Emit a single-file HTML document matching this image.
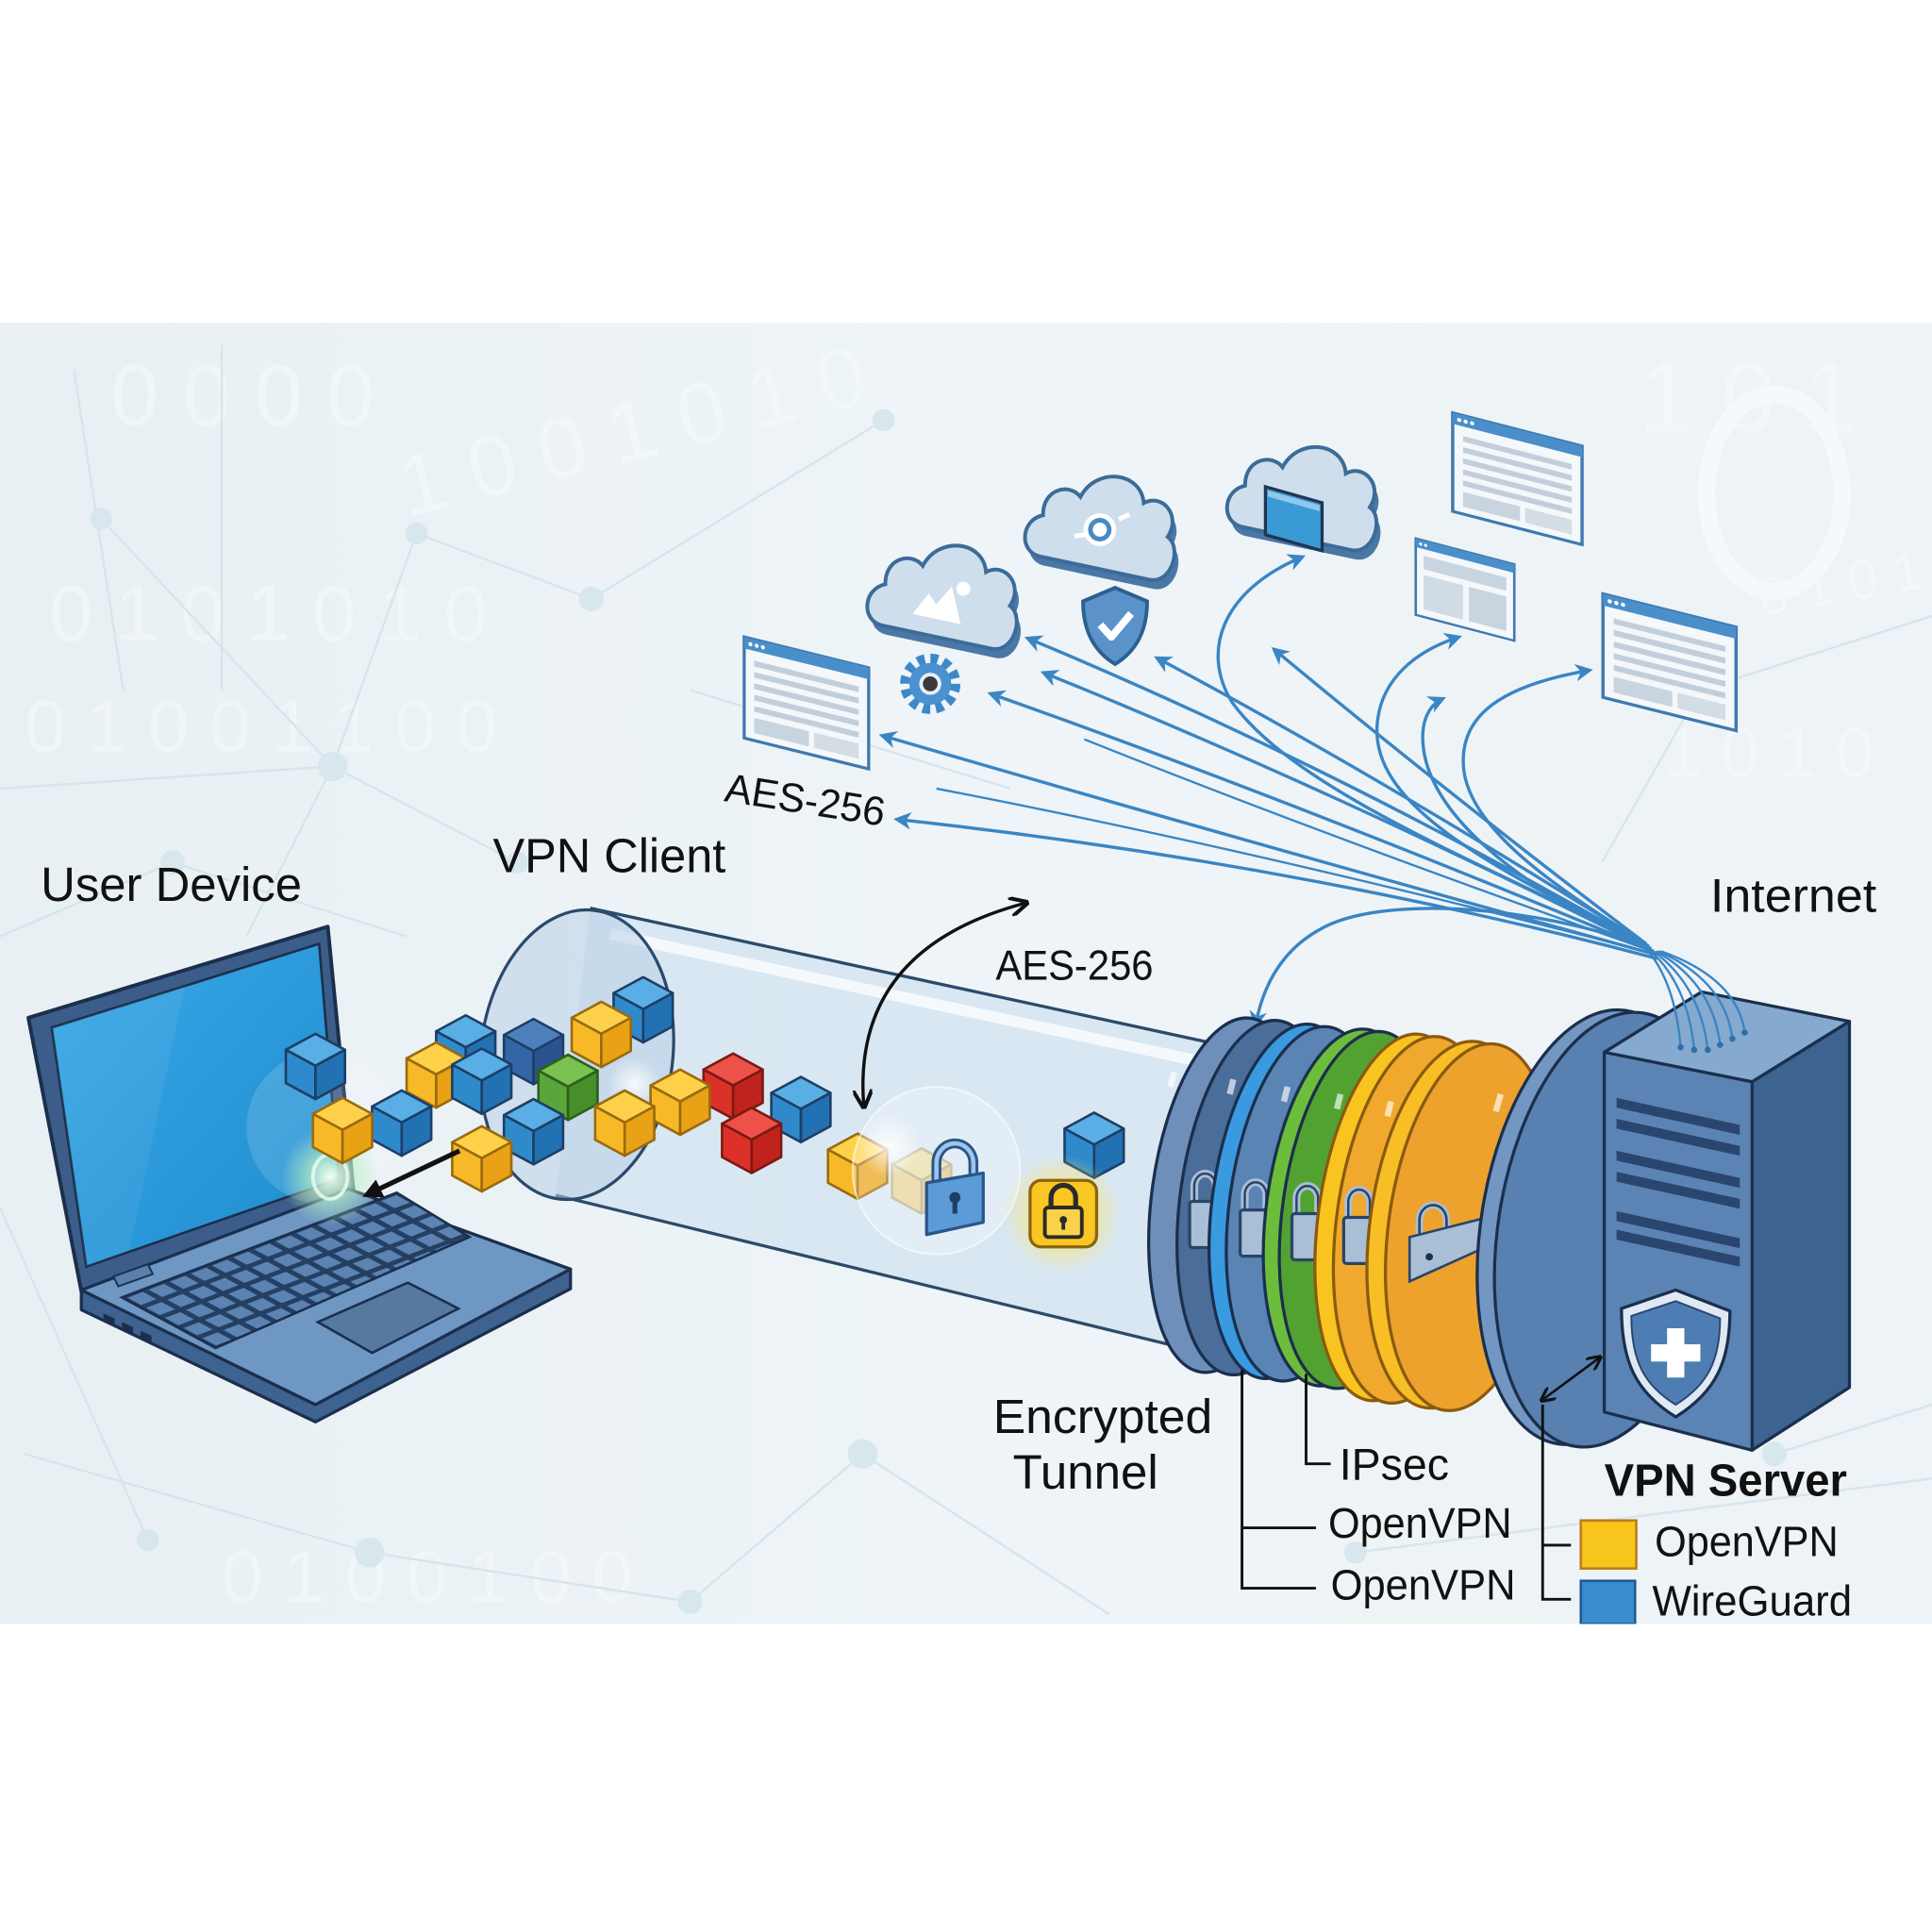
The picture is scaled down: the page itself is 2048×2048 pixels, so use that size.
<!DOCTYPE html>
<html><head><meta charset="utf-8"><style>
html,body{margin:0;padding:0;background:#fff;}
svg{display:block;}
text{font-family:"Liberation Sans",Arial,sans-serif;fill:#111;}
</style></head><body>
<svg width="2048" height="2048" viewBox="0 0 1568 1568" xmlns="http://www.w3.org/2000/svg">
<defs>
<linearGradient id="bg" x1="0" y1="0" x2="1" y2="0">
<stop offset="0" stop-color="#e8f0f4"/><stop offset="0.5" stop-color="#eef4f7"/><stop offset="1" stop-color="#edf3f6"/>
</linearGradient>
<linearGradient id="scr" x1="0" y1="0" x2="1" y2="1">
<stop offset="0" stop-color="#3aa9e8"/><stop offset="1" stop-color="#1f8ccd"/>
</linearGradient>
<radialGradient id="glowW"><stop offset="0" stop-color="#ffffff" stop-opacity="0.85"/><stop offset="1" stop-color="#ffffff" stop-opacity="0"/></radialGradient>
<radialGradient id="glowG"><stop offset="0" stop-color="#f4fff0" stop-opacity="1"/><stop offset="0.5" stop-color="#b8f0c0" stop-opacity="0.6"/><stop offset="1" stop-color="#b8f0c0" stop-opacity="0"/></radialGradient>
<radialGradient id="glowY"><stop offset="0" stop-color="#fff4a0" stop-opacity="0.95"/><stop offset="0.6" stop-color="#ffe45a" stop-opacity="0.4"/><stop offset="1" stop-color="#ffe45a" stop-opacity="0"/></radialGradient>
<pattern id="keys" patternUnits="userSpaceOnUse" width="16" height="16" patternTransform="matrix(1.072 -0.409 0.95 0.5125 99 1053)">
<rect x="0" y="0" width="16" height="16" fill="#253f62"/>
<rect x="2.2" y="2.2" width="11.6" height="11.6" fill="#5c83b2"/>
</pattern>
<marker id="ab" viewBox="0 0 10 10" refX="8" refY="5" markerWidth="5.5" markerHeight="5.5" orient="auto-start-reverse"><path d="M0,0 L10,5 L0,10 L3,5 Z" fill="#3a85c4"/></marker>
<marker id="ak" viewBox="0 0 10 10" refX="8" refY="5" markerWidth="6" markerHeight="6" orient="auto-start-reverse"><path d="M0,0 L10,5 L0,10" fill="none" stroke="#111" stroke-width="2"/></marker>
<marker id="ak2" viewBox="0 0 10 10" refX="8" refY="5" markerWidth="4" markerHeight="4" orient="auto-start-reverse"><path d="M0,0 L10,5 L0,10 Z" fill="#111"/></marker>

<g id="cB" stroke="#1d3f66" stroke-width="2" stroke-linejoin="round">
<path d="M0,-26 L24,-13 L0,0 L-24,-13 Z" fill="#5aaee6"/><path d="M-24,-13 L0,0 L0,27 L-24,14 Z" fill="#2f8acb"/><path d="M0,0 L24,-13 L24,14 L0,27 Z" fill="#2271b3"/></g>
<g id="cD" stroke="#1d3f66" stroke-width="2" stroke-linejoin="round">
<path d="M0,-26 L24,-13 L0,0 L-24,-13 Z" fill="#4d80bd"/><path d="M-24,-13 L0,0 L0,27 L-24,14 Z" fill="#3465a5"/><path d="M0,0 L24,-13 L24,14 L0,27 Z" fill="#2a548e"/></g>
<g id="cY" stroke="#9a6a10" stroke-width="2" stroke-linejoin="round">
<path d="M0,-26 L24,-13 L0,0 L-24,-13 Z" fill="#fdd14a"/><path d="M-24,-13 L0,0 L0,27 L-24,14 Z" fill="#f7b928"/><path d="M0,0 L24,-13 L24,14 L0,27 Z" fill="#e9a215"/></g>
<g id="cR" stroke="#7a1a14" stroke-width="2" stroke-linejoin="round">
<path d="M0,-26 L24,-13 L0,0 L-24,-13 Z" fill="#ee5148"/><path d="M-24,-13 L0,0 L0,27 L-24,14 Z" fill="#dc3128"/><path d="M0,0 L24,-13 L24,14 L0,27 Z" fill="#c0231d"/></g>
<g id="cG" stroke="#2e5f1a" stroke-width="2" stroke-linejoin="round">
<path d="M0,-26 L24,-13 L0,0 L-24,-13 Z" fill="#79c150"/><path d="M-24,-13 L0,0 L0,27 L-24,14 Z" fill="#5aa63a"/><path d="M0,0 L24,-13 L24,14 L0,27 Z" fill="#468f2b"/></g>

<path id="cloud" d="M-45,35 C-64,35 -68,8 -50,0 C-55,-22 -34,-32 -22,-22 C-14,-50 24,-54 32,-28 C46,-40 66,-24 58,-4 C72,2 70,35 50,35 Z"/>

<g id="lock" stroke="#2a4468" stroke-width="2">
<path d="M-7,-8 V-18 A7,8 0 0 1 7,-18 V-8" fill="none" stroke="#a9bfd6" stroke-width="5"/>
<path d="M-7,-8 V-18 A7,8 0 0 1 7,-18 V-8" fill="none" stroke-width="1.5"/>
<rect x="-10" y="-8" width="20" height="30" rx="2" fill="#a9bfd6"/>
</g>

<g id="doc">
<rect x="0" y="0" width="100" height="80" fill="#f5f8fb" stroke="#3f79b0" stroke-width="2.5"/>
<rect x="0" y="0" width="100" height="9" fill="#4a8fc9"/>
<circle cx="5" cy="4.5" r="1.6" fill="#fff"/><circle cx="10" cy="4.5" r="1.6" fill="#fff"/><circle cx="15" cy="4.5" r="1.6" fill="#fff"/>
<g stroke="#c2cfdb" stroke-width="4.5"><line x1="8" y1="19" x2="92" y2="19"/><line x1="8" y1="28" x2="92" y2="28"/><line x1="8" y1="37" x2="92" y2="37"/><line x1="8" y1="46" x2="92" y2="46"/><line x1="8" y1="55" x2="92" y2="55"/></g>
<rect x="8" y="62" width="44" height="12" fill="#c8d4de"/><rect x="56" y="62" width="36" height="12" fill="#d3dde5"/>
</g>
<g id="doc2">
<rect x="0" y="0" width="100" height="80" fill="#f5f8fb" stroke="#3f79b0" stroke-width="2.5"/>
<rect x="0" y="0" width="100" height="9" fill="#4a8fc9"/>
<circle cx="5" cy="4.5" r="1.6" fill="#fff"/><circle cx="10" cy="4.5" r="1.6" fill="#fff"/>
<rect x="8" y="16" width="84" height="14" fill="#c8d4de"/>
<rect x="8" y="36" width="40" height="36" fill="#d0dbe4"/><rect x="54" y="36" width="38" height="36" fill="#c8d4de"/>
</g>
</defs>

<!-- background band -->
<rect x="0" y="0" width="1568" height="1568" fill="#ffffff"/>
<rect x="0" y="262" width="1568" height="1056" fill="url(#bg)"/>

<!-- faint background texture -->
<g font-family="Liberation Sans, sans-serif" opacity="0.5">
<text x="90" y="345" font-size="70" style="fill:#f8fbfc">0 0 0 0</text>
<text x="330" y="420" font-size="70" transform="rotate(-14 330 420)" style="fill:#f8fbfc">1 0 0 1 0 1 0</text>
<text x="40" y="520" font-size="64" style="fill:#f8fbfc">0  1 0 1 0 1 0</text>
<text x="20" y="610" font-size="60" style="fill:#f8fbfc">0 1 0 0 1 1 0 0</text>
<text x="1330" y="350" font-size="80" style="fill:#f8fbfc">1 0 1</text>
<text x="1430" y="500" font-size="44" transform="rotate(-10 1430 500)" style="fill:#f8fbfc">0 1 0 1 0</text>
<text x="180" y="1300" font-size="60" style="fill:#f8fbfc">0 1 0 0 1 0 0</text>
<text x="1350" y="630" font-size="56" style="fill:#f8fbfc">1 0 1 0</text>
</g>
<ellipse cx="1440" cy="400" rx="55" ry="80" fill="none" stroke="#f6f9fb" stroke-width="14"/>
<g stroke="#d6e5ec" stroke-width="1.8" fill="none">
<line x1="82" y1="421" x2="270" y2="622"/><line x1="338" y1="433" x2="480" y2="486"/><line x1="338" y1="433" x2="270" y2="622"/>
<line x1="270" y1="622" x2="200" y2="760"/><line x1="0" y1="640" x2="270" y2="622"/><line x1="270" y1="622" x2="420" y2="700"/>
<line x1="480" y1="486" x2="717" y2="341"/><line x1="0" y1="980" x2="120" y2="1250"/><line x1="20" y1="1180" x2="300" y2="1260"/>
<line x1="300" y1="1260" x2="560" y2="1300"/><line x1="560" y1="1300" x2="700" y2="1180"/><line x1="700" y1="1180" x2="900" y2="1310"/>
<line x1="1380" y1="560" x2="1568" y2="500"/><line x1="1380" y1="560" x2="1300" y2="700"/><line x1="1440" y1="1180" x2="1568" y2="1140"/>
<line x1="1100" y1="1260" x2="1568" y2="1200"/><line x1="0" y1="760" x2="140" y2="700"/><line x1="140" y1="700" x2="330" y2="760"/>
<line x1="560" y1="560" x2="820" y2="640"/><line x1="60" y1="300" x2="100" y2="560"/><line x1="180" y1="280" x2="180" y2="560"/>
</g>
<g fill="#d8e6ee">
<circle cx="82" cy="421" r="9"/><circle cx="338" cy="433" r="9"/><circle cx="480" cy="486" r="10"/><circle cx="717" cy="341" r="9"/>
<circle cx="270" cy="622" r="12"/><circle cx="420" cy="700" r="9"/><circle cx="140" cy="700" r="10"/><circle cx="300" cy="1260" r="12"/>
<circle cx="560" cy="1300" r="10"/><circle cx="700" cy="1180" r="12"/><circle cx="1380" cy="560" r="12"/><circle cx="1440" cy="1180" r="10"/>
<circle cx="120" cy="1250" r="9"/><circle cx="1100" cy="1260" r="9"/>
</g>

<!-- documents -->
<use href="#doc" transform="matrix(1.01 0.25 0 1.025 604 517)"/>
<use href="#doc" transform="matrix(1.05 0.27 0 1.0 1179 335)"/>
<use href="#doc2" transform="matrix(0.8 0.21 0 0.775 1149 437)"/>
<use href="#doc" transform="matrix(1.08 0.27 0 1.05 1301 482)"/>

<!-- clouds -->
<g transform="translate(765 484) rotate(12) scale(0.95)">
<use href="#cloud" transform="translate(5 7)" fill="#4a78a6"/>
<use href="#cloud" fill="#cfdeec" stroke="#3b6b99" stroke-width="3.2"/>
<path d="M-22,20 L-12,0 L-4,8 L6,-10 L20,20 Z" fill="#fff"/><circle cx="16" cy="-10" r="6" fill="#fff"/>
</g>
<g transform="translate(893 428) rotate(12) scale(0.95)">
<use href="#cloud" transform="translate(5 7)" fill="#4a78a6"/>
<use href="#cloud" fill="#cfdeec" stroke="#3b6b99" stroke-width="3.2"/>
<circle cx="0" cy="2" r="14" fill="#fff"/><circle cx="0" cy="2" r="8" fill="none" stroke="#4a8ac4" stroke-width="4"/>
<path d="M-20,12 L-10,8 M14,-10 L22,-16" stroke="#fff" stroke-width="4"/>
</g>
<g transform="translate(1057 404) rotate(12) scale(0.95)">
<use href="#cloud" transform="translate(5 7)" fill="#4a78a6"/>
<use href="#cloud" fill="#cfdeec" stroke="#3b6b99" stroke-width="3.2"/>
</g>
<polygon points="1027,395 1073,408 1073,447 1027,434" fill="#3a9ad6" stroke="#1f3550" stroke-width="2.5"/>
<polygon points="1029,398 1071,410 1071,415 1029,403" fill="#8fc8ec"/>

<!-- shield icon -->
<path d="M905,477 L931,488 C931,511 923,528 905,539 C887,528 879,511 879,488 Z" fill="#5b92c9" stroke="#2c5f92" stroke-width="3"/>
<polyline points="893,507 902,517 918,498" fill="none" stroke="#fff" stroke-width="6" stroke-linejoin="round"/>
<!-- gear -->
<circle cx="755" cy="555" r="20" fill="none" stroke="#3f88c8" stroke-width="9" stroke-dasharray="6 4.47"/>
<circle cx="755" cy="555" r="17" fill="#4a92cf"/>
<circle cx="755" cy="555" r="9" fill="#e8eef3"/><circle cx="755" cy="555" r="6" fill="#3b3b3b"/>

<!-- fan arrows -->
<g fill="none" stroke="#3a85c4" stroke-width="2.6" marker-end="url(#ab)">
<path d="M1345,778 Q1050,700 728,665"/>
<path d="M1345,775 Q1000,680 716,597"/>
<path d="M1342,772 Q1050,650 804,563"/>
<path d="M1340,770 Q1080,620 834,518"/>
<path d="M1340,771 Q1080,640 847,546"/>
<path d="M1338,768 Q1120,630 939,534"/>
<path d="M1336,766 Q1170,640 1034,527"/>
<path d="M1338,768 C1200,700 1050,640 1000,570 C975,530 990,480 1057,452"/>
<path d="M1336,766 C1200,700 1110,650 1118,585 C1122,550 1150,528 1184,517"/>
<path d="M1336,766 C1230,720 1160,660 1155,605 C1153,585 1160,572 1171,567"/>
<path d="M1338,768 C1280,730 1195,680 1188,625 C1183,580 1220,556 1290,544"/>
<path d="M1340,770 C1250,735 1120,725 1070,755 C1040,772 1025,800 1019,832"/>
</g>
<g fill="none" stroke="#3a85c4" stroke-width="1.8">
<path d="M1343,774 Q1020,690 760,640"/>
<path d="M1341,772 Q1080,680 880,600"/>
</g>

<!-- tube -->
<polygon points="479,737 995,849 985,1100 451,970" fill="#d3e3f0" fill-opacity="0.8"/>
<line x1="495" y1="758" x2="995" y2="866" stroke="#ffffff" stroke-opacity="0.75" stroke-width="9"/>
<line x1="479" y1="737" x2="995" y2="849" stroke="#2b4a6b" stroke-width="2.5"/>
<line x1="451" y1="970" x2="985" y2="1100" stroke="#2b4a6b" stroke-width="2.5"/>
<ellipse cx="468" cy="856" rx="78" ry="118" transform="rotate(7 468 856)" fill="#b9d0e5" fill-opacity="0.55" stroke="#2b4a6b" stroke-width="2.5"/>

<!-- laptop -->
<polygon points="23,826 266,752 287,967 66,1048" fill="#3c5d89" stroke="#1b2f4d" stroke-width="3" stroke-linejoin="round"/>
<polygon points="42,834 259,766 275,957 70,1028" fill="url(#scr)" stroke="#1b2f4d" stroke-width="2"/>
<polygon points="42,834 150,800 105,1015 70,1028" fill="#ffffff" fill-opacity="0.06"/>
<circle cx="262" cy="915" r="62" fill="#ffffff" fill-opacity="0.14"/>
<polygon points="66,1047 66,1063 256,1154 463,1046 463,1030 256,1140" fill="#3e6391" stroke="#1b2f4d" stroke-width="2.5" stroke-linejoin="round"/>
<polygon points="66,1047 283,965 463,1030 256,1140" fill="#6f97c4" stroke="#1b2f4d" stroke-width="2.5" stroke-linejoin="round"/>
<polygon points="99,1053 322,968 381,1004 175,1094" fill="url(#keys)" stroke="#1b2f4d" stroke-width="2"/>
<polygon points="258,1073 331,1041 372,1062 302,1098" fill="#56799f" stroke="#1b2f4d" stroke-width="2"/>
<polygon points="92,1036 120,1026 124,1034 96,1044" fill="#5a80ad" stroke="#1b2f4d" stroke-width="1.5"/>
<g fill="#1b2f4d"><polygon points="84,1066 93,1070 93,1075 84,1071"/><polygon points="99,1073 108,1077 108,1082 99,1078"/><polygon points="114,1080 123,1084 123,1089 114,1085"/></g>
<circle cx="268" cy="955" r="40" fill="url(#glowG)"/>
<ellipse cx="268" cy="955" rx="14" ry="18" fill="none" stroke="#e8fff0" stroke-width="3" opacity="0.8"/>

<!-- cubes -->
<use href="#cB" x="522" y="819"/>
<use href="#cY" x="488" y="839"/>
<use href="#cD" x="433" y="853"/>
<use href="#cB" x="378" y="850"/>
<use href="#cB" x="256" y="865"/>
<use href="#cY" x="354" y="872"/>
<use href="#cB" x="391" y="877"/>
<use href="#cG" x="461" y="882"/>
<circle cx="515" cy="880" r="22" fill="url(#glowW)"/>
<use href="#cR" x="595" y="881"/>
<use href="#cY" x="552" y="894"/>
<use href="#cB" x="650" y="900"/>
<use href="#cY" x="507" y="911"/>
<use href="#cB" x="326" y="911"/>
<use href="#cY" x="278" y="917"/>
<use href="#cB" x="433" y="918"/>
<use href="#cR" x="610" y="925"/>
<use href="#cY" x="391" y="940"/>
<use href="#cY" x="696" y="946"/>
<g opacity="0.45"><use href="#cY" x="748" y="958"/></g>
<use href="#cB" x="888" y="929"/>

<!-- lock glow region -->
<circle cx="760" cy="950" r="68" fill="#ffffff" fill-opacity="0.28" stroke="#ffffff" stroke-opacity="0.6" stroke-width="1.5"/>
<circle cx="722" cy="930" r="26" fill="url(#glowW)"/>
<!-- blue lock -->
<path d="M760,962 V944 A15,16 0 0 1 790,944 V962" fill="none" stroke="#2a5588" stroke-width="8"/>
<path d="M760,962 V944 A15,16 0 0 1 790,944 V962" fill="none" stroke="#9cc6ea" stroke-width="3.5"/>
<polygon points="752,960 798,952 798,992 752,1002" fill="#5b9bd8" stroke="#2a5588" stroke-width="2.5" stroke-linejoin="round"/>
<circle cx="775" cy="972" r="4.5" fill="#1d3f66"/><rect x="773" y="974" width="4" height="11" fill="#1d3f66"/>
<!-- yellow lock -->
<circle cx="862" cy="985" r="48" fill="url(#glowY)"/>
<rect x="836" y="958" width="54" height="54" rx="9" fill="#f9c623" stroke="#8a6410" stroke-width="2.5"/>
<path d="M853,982 V972 A10,10 0 0 1 873,972 V982" fill="none" stroke="#2b2b2b" stroke-width="4"/>
<rect x="848" y="980" width="30" height="24" rx="3" fill="#f9d24a" stroke="#2b2b2b" stroke-width="3"/>
<circle cx="863" cy="990" r="3" fill="#2b2b2b"/><rect x="861.5" y="990" width="3" height="8" fill="#2b2b2b"/>

<!-- black arrows -->
<line x1="373" y1="934" x2="297" y2="970" stroke="#111" stroke-width="4" marker-end="url(#ak2)"/>
<path d="M701,897 C695,820 730,760 832,733" fill="none" stroke="#111" stroke-width="2.6" marker-start="url(#ak)" marker-end="url(#ak)"/>

<!-- disks -->
<g stroke="#1b2f4d" stroke-width="2.5">
<ellipse cx="995" cy="970" rx="60" ry="145" transform="rotate(8 995 970)" fill="#6d8fba"/>
<ellipse cx="1018" cy="972" rx="60" ry="145" transform="rotate(8 1018 972)" fill="#4a6d99"/>
<use href="#lock" transform="translate(978 985) scale(1.25)"/>
<ellipse cx="1044" cy="975" rx="60" ry="145" transform="rotate(8 1044 975)" fill="#3a9ae0"/>
<ellipse cx="1058" cy="977" rx="60" ry="145" transform="rotate(8 1058 977)" fill="#5a84b3"/>
<use href="#lock" transform="translate(1019 992) scale(1.25)"/>
<ellipse cx="1089" cy="980" rx="61" ry="146" transform="rotate(8 1089 980)" fill="#6cbd3c"/>
<ellipse cx="1102" cy="982" rx="61" ry="146" transform="rotate(8 1102 982)" fill="#52a232"/>
<use href="#lock" transform="translate(1061 995) scale(1.25)"/>
<ellipse cx="1132" cy="988" rx="62" ry="150" transform="rotate(8 1132 988)" fill="#f9c41f" stroke="#8a5a10"/>
<ellipse cx="1147" cy="990" rx="62" ry="150" transform="rotate(8 1147 990)" fill="#f0a92c" stroke="#8a5a10"/>
<use href="#lock" transform="translate(1103 998) scale(1.25)"/>
<ellipse cx="1178" cy="994" rx="66" ry="150" transform="rotate(8 1178 994)" fill="#f8be25" stroke="#8a5a10"/>
<ellipse cx="1193" cy="996" rx="66" ry="150" transform="rotate(8 1193 996)" fill="#eda22e" stroke="#8a5a10"/>
<g fill="#a9bfd6" stroke="#2a4468" stroke-width="2">
<path d="M1152,1006 V990 A11,12 0 0 1 1174,990 V1006" fill="none" stroke="#a9bfd6" stroke-width="6"/>
<path d="M1152,1006 V990 A11,12 0 0 1 1174,990 V1006" fill="none"/>
<polygon points="1144,1004 1215,986 1215,1008 1144,1040"/>
<circle cx="1160" cy="1020" r="3" fill="#1b2f4d" stroke="none"/>
</g>
<ellipse cx="1292" cy="996" rx="90" ry="178" transform="rotate(9 1292 996)" fill="#7397c2"/>
<ellipse cx="1306" cy="998" rx="90" ry="178" transform="rotate(9 1306 998)" fill="#5880b0"/>
</g>
<g stroke="#ffffff" stroke-opacity="0.65" stroke-width="5">
<line x1="950" y1="882" x2="953" y2="870"/><line x1="998" y1="888" x2="1001" y2="876"/><line x1="1042" y1="894" x2="1045" y2="882"/><line x1="1085" y1="900" x2="1088" y2="888"/><line x1="1126" y1="906" x2="1129" y2="894"/><line x1="1214" y1="902" x2="1218" y2="888"/>
</g>

<!-- server -->
<g stroke="#1b2f4d" stroke-width="2.5" stroke-linejoin="round">
<polygon points="1302,854 1381,805 1501,829 1422,878" fill="#86a9cf"/>
<polygon points="1422,878 1501,829 1501,1126 1422,1177" fill="#3d6391"/>
<polygon points="1302,854 1422,878 1422,1177 1302,1146" fill="#5b84b4"/>
</g>
<g fill="#2a4670">
<polygon points="1312,891 1412,913 1412,921 1312,899"/>
<polygon points="1312,908 1412,930 1412,938 1312,916"/>
<polygon points="1312,934 1412,956 1412,964 1312,942"/>
<polygon points="1312,951 1412,973 1412,981 1312,959"/>
<polygon points="1312,983 1412,1005 1412,1013 1312,991"/>
<polygon points="1312,998 1412,1020 1412,1028 1312,1006"/>
</g>
<path d="M1360,1047 L1404,1064 C1404,1106 1392,1130 1360,1150 C1328,1130 1316,1106 1316,1062 Z" fill="#dfe9f3" stroke="#1b2f4d" stroke-width="2.5"/>
<path d="M1360,1056 L1396,1070 C1396,1104 1386,1124 1360,1140 C1334,1124 1324,1104 1324,1068 Z" fill="#4e7db3" stroke="#2a4670" stroke-width="1.5"/>
<rect x="1353" y="1078" width="14" height="40" fill="#fff"/><rect x="1340" y="1091" width="40" height="14" fill="#fff"/>
<!-- cables -->
<g fill="none" stroke="#3a85c4" stroke-width="1.8">
<path d="M1338,772 Q1360,800 1364,850"/><path d="M1340,772 Q1370,800 1375,852"/><path d="M1342,772 Q1380,800 1386,852"/>
<path d="M1344,772 Q1390,798 1396,848"/><path d="M1346,772 Q1400,796 1406,843"/><path d="M1348,772 Q1410,794 1416,838"/>
</g>
<g fill="#2e6fa8"><circle cx="1364" cy="850" r="2.5"/><circle cx="1375" cy="852" r="2.5"/><circle cx="1386" cy="852" r="2.5"/><circle cx="1396" cy="848" r="2.5"/><circle cx="1406" cy="843" r="2.5"/><circle cx="1416" cy="838" r="2.5"/></g>
<line x1="1252" y1="1136" x2="1298" y2="1102" stroke="#111" stroke-width="2" marker-start="url(#ak)" marker-end="url(#ak)"/>

<!-- bracket lines -->
<g fill="none" stroke="#111" stroke-width="2.2">
<path d="M1008,1112 V1289 H1068 M1008,1240 H1068"/>
<path d="M1060,1115 V1188 H1080"/>
<path d="M1252,1140 V1298 H1275 M1252,1254 H1275"/>
</g>
<rect x="1283" y="1234" width="45" height="39" fill="#f8c51c" stroke="#c07a20" stroke-width="2"/>
<rect x="1283" y="1283" width="44" height="35" fill="#3a8ed0" stroke="#1f5a90" stroke-width="2"/>

<!-- labels -->
<text x="33" y="731" font-size="39" textLength="212" lengthAdjust="spacingAndGlyphs">User Device</text>
<text x="400" y="708" font-size="39" textLength="189" lengthAdjust="spacingAndGlyphs">VPN Client</text>
<text x="587" y="650" font-size="33" textLength="131" lengthAdjust="spacingAndGlyphs" transform="rotate(9 587 650)">AES-256</text>
<text x="808" y="795" font-size="34" textLength="128" lengthAdjust="spacingAndGlyphs">AES-256</text>
<text x="1388" y="740" font-size="38" textLength="135" lengthAdjust="spacingAndGlyphs">Internet</text>
<text x="806" y="1163" font-size="39" textLength="178" lengthAdjust="spacingAndGlyphs">Encrypted</text>
<text x="822" y="1208" font-size="39" textLength="118" lengthAdjust="spacingAndGlyphs">Tunnel</text>
<text x="1087" y="1201" font-size="36" textLength="89" lengthAdjust="spacingAndGlyphs">IPsec</text>
<text x="1078" y="1248" font-size="35" textLength="149" lengthAdjust="spacingAndGlyphs">OpenVPN</text>
<text x="1080" y="1298" font-size="35" textLength="150" lengthAdjust="spacingAndGlyphs">OpenVPN</text>
<text x="1302" y="1214" font-size="37" font-weight="bold" textLength="197" lengthAdjust="spacingAndGlyphs">VPN Server</text>
<text x="1343" y="1263" font-size="35" textLength="149" lengthAdjust="spacingAndGlyphs">OpenVPN</text>
<text x="1341" y="1311" font-size="35" textLength="162" lengthAdjust="spacingAndGlyphs">WireGuard</text>

<rect x="0" y="1318" width="1568" height="250" fill="#ffffff"/>
</svg>
</body></html>
